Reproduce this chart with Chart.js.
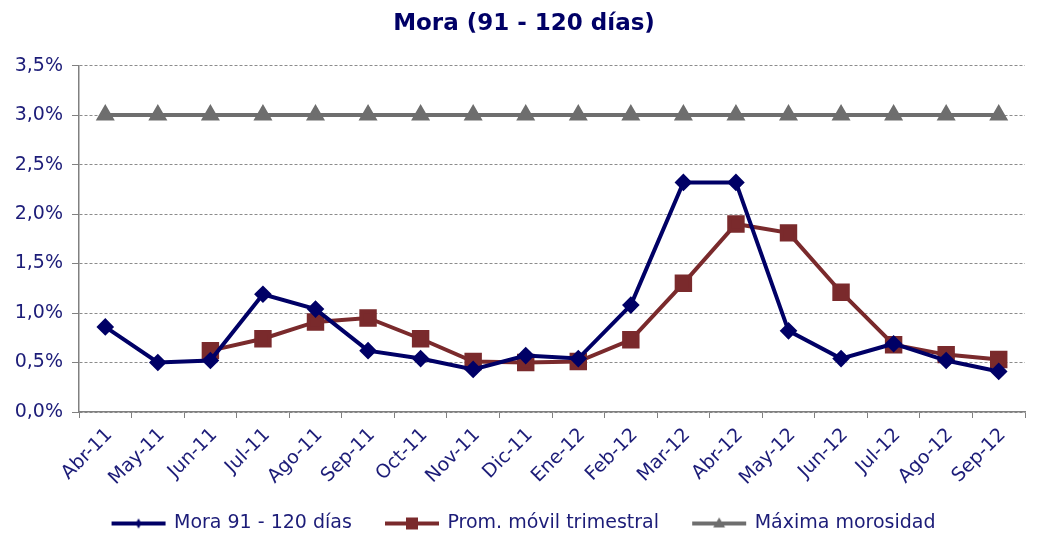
<!DOCTYPE html>
<html><head><meta charset="utf-8">
<script src="https://cdn.jsdelivr.net/npm/chart.js@4"></script>
<style>html,body{margin:0;padding:0;background:#fff}#wrap{width:1051px;height:558px}</style>
</head><body><div id="wrap"><canvas id="c"></canvas></div>
<script>
const categories = ['Abr-11','May-11','Jun-11','Jul-11','Ago-11','Sep-11','Oct-11','Nov-11','Dic-11','Ene-12','Feb-12','Mar-12','Abr-12','May-12','Jun-12','Jul-12','Ago-12','Sep-12'];
const mora = [0.86,0.50,0.52,1.19,1.04,0.62,0.54,0.43,0.57,0.54,1.08,2.32,2.32,0.82,0.54,0.69,0.52,0.41];
const promMovil = [null,null,0.62,0.74,0.91,0.95,0.74,0.51,0.50,0.51,0.73,1.30,1.90,1.81,1.21,0.68,0.58,0.53];
const maxima = [3.0,3.0,3.0,3.0,3.0,3.0,3.0,3.0,3.0,3.0,3.0,3.0,3.0,3.0,3.0,3.0,3.0,3.0];
const yTicks = [0,0.5,1.0,1.5,2.0,2.5,3.0,3.5];

const NAVY = '#000066', BROWN = '#7a2a2c', GRAY = '#6e6e6e', TXT = '#1c1c78';
const FONT = '"DejaVu Sans", Verdana, sans-serif';
const GAP = '\u00a0\u00a0\u00a0\u00a0';

function legendIcon(color, kind) {
  const c = document.createElement('canvas');
  c.width = 56; c.height = 16;
  const g = c.getContext('2d');
  g.strokeStyle = color; g.fillStyle = color; g.lineWidth = 4;
  g.beginPath(); g.moveTo(1, 8); g.lineTo(55, 8); g.stroke();
  g.beginPath();
  if (kind === 'diamond') { g.moveTo(28,3); g.lineTo(31,8); g.lineTo(28,13); g.lineTo(25,8); }
  else if (kind === 'rect') { g.rect(22,2,12,12); }
  else { g.moveTo(28,2); g.lineTo(34,12); g.lineTo(22,12); }
  g.closePath(); g.fill();
  return c;
}

new Chart(document.getElementById('c'), {
  type: 'line',
  data: {
    labels: categories,
    datasets: [
      { label: 'Mora 91 - 120 días', data: mora, borderColor: NAVY, backgroundColor: NAVY, borderWidth: 4,
        pointStyle: 'rectRot', pointRadius: 6, pointHoverRadius: 6, legendIcon: legendIcon(NAVY,'diamond'), order: 1 },
      { label: 'Prom. móvil trimestral', data: promMovil, borderColor: BROWN, backgroundColor: BROWN, borderWidth: 4,
        pointStyle: 'rect', pointRadius: 9.5, pointHoverRadius: 9.5, legendIcon: legendIcon(BROWN,'rect'), order: 2 },
      { label: 'Máxima morosidad', data: maxima, borderColor: GRAY, backgroundColor: GRAY, borderWidth: 4,
        pointStyle: 'triangle', pointRadius: 7, pointHoverRadius: 7, legendIcon: legendIcon(GRAY,'tri'), order: 3 }
    ]
  },
  options: {
    responsive: true, maintainAspectRatio: false, animation: false,
    layout: { padding: { top: 8, left: 4, right: 7, bottom: 15 } },
    plugins: {
      title: { display: true, text: 'Mora (91 - 120 días)', color: NAVY,
        font: { family: FONT, size: 23, weight: 'bold' }, padding: { top: 2, bottom: 28 } },
      legend: { position: 'bottom',
        labels: { usePointStyle: true, pointStyleWidth: 52, boxHeight: 16, color: TXT,
          font: { family: FONT, size: 19 }, padding: 10,
          generateLabels: (chart) => chart.data.datasets.map((d, i, arr) => ({
            text: d.label + (i < arr.length - 1 ? GAP : ''), fontColor: TXT, pointStyle: d.legendIcon,
            datasetIndex: i, hidden: false, lineWidth: 0,
            strokeStyle: 'transparent', fillStyle: 'transparent'
          })) } },
      tooltip: { enabled: false }
    },
    scales: {
      x: {
        offset: true,
        afterFit: (s) => { s.height = 92; },
        grid: { display: true, drawOnChartArea: false, offset: true, color: '#808080', tickLength: 6, lineWidth: 1 },
        border: { color: '#808080', width: 1.5 },
        ticks: { color: TXT, font: { family: FONT, size: 19 }, maxRotation: 45, minRotation: 45, padding: 6, labelOffset: 4 }
      },
      y: {
        min: 0, max: 3.5,
        afterBuildTicks: (s) => { s.ticks = yTicks.map(v => ({ value: v })); },
        afterFit: (s) => { s.width = 75; },
        grid: { color: '#8c8c8c', tickBorderDash: [], tickColor: '#808080', tickLength: 7, lineWidth: 1 },
        border: { color: '#808080', width: 1.5, dash: [3,2] },
        ticks: { color: TXT, font: { family: FONT, size: 19 }, padding: 9,
          callback: (v) => v.toFixed(1).replace('.', ',') + '%' }
      },
      ySpace: {
        position: 'right', min: 0, max: 3.5,
        afterFit: (s) => { s.width = 19; },
        grid: { display: false }, border: { display: false }, ticks: { display: false }
      }
    }
  }
});
</script></body></html>
